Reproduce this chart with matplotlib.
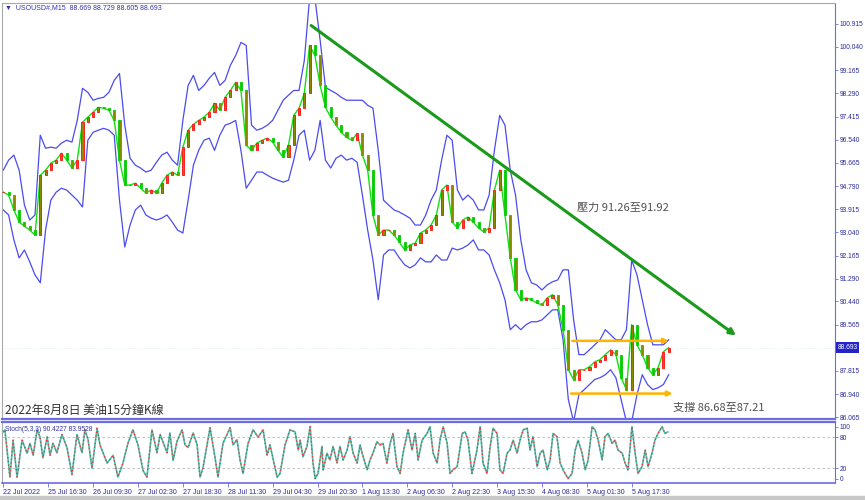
import matplotlib
matplotlib.use("Agg")
import matplotlib.pyplot as plt
import numpy as np

plt.rcParams["font.family"] = ["Liberation Sans", "DejaVu Sans"]

# USOUSD# M15, price read every 2 bar-hours (sample i sits at hour 2*i)
close = [94.56, 94.45, 93.89, 93.43, 93.28, 93.13, 92.94, 95.20, 95.39, 95.65,
         95.77, 96.03, 95.77, 95.47, 95.77, 97.20, 97.39, 97.58, 97.76, 97.73,
         97.65, 97.27, 95.77, 94.83, 94.83, 94.90, 94.71, 94.53, 94.64, 94.53,
         94.90, 95.20, 95.32, 95.20, 96.26, 96.90, 97.12, 97.27, 97.39, 97.58,
         97.91, 97.65, 98.14, 98.40, 98.70, 98.40, 96.33, 96.14, 96.41, 96.52,
         96.60, 96.45, 96.14, 95.88, 96.33, 97.46, 97.73, 98.29, 100.10, 99.72,
         98.59, 97.76, 97.39, 97.09, 96.82, 96.63, 96.52, 96.78, 95.96, 95.39,
         93.70, 92.94, 93.13, 93.13, 92.94, 92.68, 92.38, 92.57, 92.64, 93.02,
         93.13, 93.32, 93.70, 94.64, 94.83, 93.43, 93.21, 93.51, 93.62, 93.43,
         93.21, 93.06, 93.21, 94.64, 95.39, 93.70, 92.08, 90.87, 90.50, 90.57,
         90.50, 90.38, 90.31, 90.57, 90.69, 90.31, 89.37, 87.86, 87.49, 87.86,
         87.86, 87.97, 88.16, 88.24, 88.43, 88.61, 88.43, 87.56, 87.11, 89.56,
         88.80, 88.43, 87.94, 87.67, 87.94, 88.54, 88.69]

upper_band = [95.39, 95.77, 95.96, 95.39, 94.07, 93.51, 93.70, 96.71, 96.22, 96.26,
              96.22, 96.41, 96.52, 96.45, 97.27, 98.48, 98.33, 98.03, 98.10, 98.14,
              98.33, 98.78, 99.04, 97.09, 95.84, 95.58, 95.47, 95.32, 95.39, 95.69,
              95.96, 96.07, 95.77, 95.58, 97.27, 98.59, 98.97, 98.40, 98.59, 98.86,
              99.08, 98.59, 98.78, 99.35, 99.72, 100.21, 100.10, 97.09, 96.90, 96.97,
              97.09, 97.27, 97.65, 98.03, 98.22, 98.40, 98.40, 99.53, 101.90, 101.90,
              100.29, 98.52, 98.40, 98.29, 98.14, 98.03, 98.03, 98.03, 98.03, 97.84,
              97.73, 96.14, 94.26, 94.07, 93.89, 93.81, 93.70, 93.58, 93.32, 93.32,
              93.70, 94.26, 94.64, 95.77, 96.71, 96.52, 94.64, 94.26, 94.45, 94.26,
              93.89, 93.89, 94.45, 96.14, 97.46, 97.09, 95.39, 94.45, 92.76, 91.63,
              91.14, 91.06, 90.87, 91.06, 91.18, 91.25, 91.63, 91.63, 89.74, 88.43,
              88.43, 88.61, 88.80, 88.99, 89.37, 89.18, 88.99, 88.99, 89.37, 92.00,
              91.44, 90.50, 89.56, 88.80, 88.80, 88.80, 88.99]

lower_band = [93.89, 93.70, 92.76, 92.08, 92.38, 91.93, 91.44, 91.14, 93.13, 94.26,
              94.56, 94.71, 94.64, 94.45, 94.26, 94.00, 96.52, 96.82, 96.90, 96.97,
              96.90, 96.71, 94.26, 92.49, 93.32, 93.89, 94.07, 93.70, 93.58, 93.51,
              93.58, 93.70, 93.43, 93.13, 93.02, 94.26, 95.58, 96.14, 96.52, 96.60,
              96.14, 96.71, 97.09, 97.16, 97.27, 96.14, 94.71, 95.01, 95.32, 95.32,
              95.20, 95.09, 95.01, 94.94, 95.01, 95.77, 96.71, 96.90, 95.77, 96.14,
              97.27, 95.77, 95.47, 95.84, 95.96, 95.77, 95.84, 95.69, 94.45, 93.13,
              92.00, 90.50, 92.19, 92.38, 92.38, 92.08, 91.82, 91.70, 91.82, 92.08,
              91.93, 91.93, 92.19, 92.00, 92.00, 92.45, 92.38, 92.45, 92.57, 92.76,
              92.38, 92.38, 92.19, 91.63, 91.14, 90.50, 89.37, 89.56, 89.37, 89.56,
              89.67, 89.67, 89.74, 89.93, 90.12, 90.12, 88.99, 86.73, 85.90, 86.92,
              87.11, 87.30, 87.49, 87.56, 87.67, 87.86, 87.56, 86.73, 85.90, 85.90,
              86.92, 87.67, 87.30, 87.11, 87.18, 87.30, 87.67]

# Stoch(5,3,3) main line, bar-hour positions and values
stoch_hour = [0, 0.6, 2.5, 3.7, 5.2, 7.1, 9.0, 10.1, 11.3, 12.8, 13.9, 15.0, 16.6, 17.7,
              18.8, 20.3, 22.2, 24.1, 26.0, 27.9, 29.8, 30.9, 32.1, 33.6, 35.5, 36.6,
              39.3, 41.6, 43.4, 45.3, 47.2, 49.1, 51.0, 52.9, 54.4, 56.3, 58.2, 59.4,
              62.0, 63.1, 64.3, 65.8, 67.7, 68.8, 70.0, 71.9, 73.4, 74.5, 75.6, 78.3,
              80.2, 81.3, 83.2, 85.9, 87.0, 88.5, 89.7, 90.8, 92.7, 94.6, 96.5, 98.4,
              99.9, 101.0, 103.7, 104.8, 106.7, 108.6, 110.5, 111.7, 112.4, 113.5,
              115.0, 116.2, 117.3, 118.1, 119.2, 120.7, 121.1, 122.6, 123.7, 124.9,
              126.4, 127.5, 128.7, 130.2, 131.3, 132.5, 134.0, 135.1, 136.3, 137.8,
              138.9, 140.0, 141.5, 142.7, 143.8, 145.3, 146.5, 147.6, 149.1, 150.3,
              151.4, 153.3, 154.8, 156.0, 157.1, 158.6, 160.5, 161.6, 162.8, 164.3,
              165.4, 166.6, 168.1, 169.2, 170.3, 171.9, 173.8, 174.9, 176.0, 177.5,
              179.4, 180.6, 181.7, 183.2, 184.4, 185.5, 187.0, 188.1, 189.3, 190.8,
              191.9, 193.1, 194.6, 195.7, 196.9, 198.4, 199.5, 200.6, 202.2, 203.3,
              204.4, 206.0, 207.1, 208.2, 209.7, 210.9, 212.0, 213.9, 215.4, 216.6,
              217.7, 219.2, 220.4, 221.5, 223.0, 224.1, 225.3, 226.8, 227.9, 229.1,
              230.6, 231.7, 232.8, 234.4, 235.5, 236.6, 238.1, 239.3, 240.4, 241.9,
              243.1, 244.2, 245.7, 246.8, 248.0, 249.5, 250.6, 251.7]
stoch_k = [90, 94, 3, 74, 3, 74, 49, 68, 45, 94, 80, 40, 80, 45,
           68, 50, 85, 60, 8, 85, 50, 94, 75, 20, 97, 65,
           30, 45, 3, 30, 68, 94, 65, 16, 3, 94, 50, 85,
           50, 88, 35, 72, 94, 65, 60, 88, 65, 3, 20, 98,
           40, 3, 68, 98, 65, 75, 35, 10, 68, 94, 80, 94,
           45, 65, 3, 10, 65, 94, 90, 55, 74, 42,
           62, 100, 30, 0, 10, 62, 17, 49, 36, 62,
           30, 62, 36, 55, 81, 49, 30, 65, 42, 17,
           36, 49, 71, 65, 68, 30, 68, 87, 23, 10,
           49, 94, 55, 87, 36, 74, 87, 100, 49, 30,
           74, 100, 68, 10, 17, 23, 87, 90, 74, 10,
           55, 100, 30, 10, 62, 97, 87, 17, 10, 49,
           55, 74, 49, 74, 94, 97, 55, 81, 23, 49,
           55, 17, 36, 87, 81, 30, 17, 0, 10, 55,
           74, 49, 17, 36, 100, 94, 74, 36, 81, 87,
           68, 74, 55, 49, 30, 17, 100, 49, 10, 23,
           55, 23, 49, 74, 87, 100, 87, 90]

price_ticks = [100.915, 100.040, 99.165, 98.290, 97.415, 96.540, 95.665, 94.790,
               93.915, 93.040, 92.165, 91.290, 90.440, 89.565, 87.815, 86.940, 86.065]
last_price = 88.693
time_hours = [0, 17, 34, 51, 68, 85, 102, 119, 136, 153, 170, 187, 204, 221, 238]
time_labels = ["22 Jul 2022", "25 Jul 16:30", "26 Jul 09:30", "27 Jul 02:30",
               "27 Jul 18:30", "28 Jul 11:30", "29 Jul 04:30", "29 Jul 20:30",
               "1 Aug 13:30", "2 Aug 06:30", "2 Aug 22:30", "3 Aug 15:30",
               "4 Aug 08:30", "5 Aug 01:30", "5 Aug 17:30"]

# hand-drawn objects on the chart (bar-hour, price)
trend_start = (116.6, 100.85)
trend_end = (277.5, 89.15)
resist_line = (215.5, 252.0, 88.95)
support_line = (215.0, 253.5, 86.96)

BLUE = "#6C6CE4"
LABEL = "#2A2A9C"
GREY = "#A8A8A8"

fig = plt.figure(figsize=(8.65, 5), dpi=100)
ax = fig.add_axes([2 / 865, 1 - 419 / 500, 833 / 865, 416 / 500])
ax2 = fig.add_axes([2 / 865, 1 - 483 / 500, 833 / 865, 61 / 500])

hours = np.arange(len(close)) * 2
c = np.array(close)
o = np.concatenate([[c[0]], c[:-1]])
up = c >= o

ax.plot(hours, upper_band, color="#4B4BF0", lw=0.9, zorder=1)
ax.plot(hours, lower_band, color="#4B4BF0", lw=0.9, zorder=1)
ax.plot(hours, close, color="#10E010", lw=1.0, zorder=2)
edge = np.where(up, "#FF2020", "#10D010")
ax.bar(hours, c - o, bottom=o, width=0.8, color="#8A8A00",
       edgecolor=edge, linewidth=0.7, zorder=3)

ax.annotate("", xy=trend_end, xytext=trend_start,
            arrowprops=dict(arrowstyle="-|>", color="#1A9A1A", lw=2.2,
                            mutation_scale=9, shrinkA=0, shrinkB=0), zorder=4)
for x0, x1, lvl in (resist_line, support_line):
    ax.annotate("", xy=(x1, lvl), xytext=(x0, lvl),
                arrowprops=dict(arrowstyle="-|>", color="#FFB400", lw=1.8,
                                mutation_scale=7, shrinkA=0, shrinkB=0), zorder=4)

ax.axhline(last_price, color="#D8ECEC", lw=0.6, ls=":", zorder=0)

ax.set_xlim(-0.5, 315)
ax.set_ylim(86.0, 101.7)
ax.yaxis.tick_right()
ax.set_yticks(price_ticks)
ax.set_yticklabels([f"{v:.3f}" for v in price_ticks])
ax.tick_params(axis="y", length=2, width=0.6, color=BLUE, labelsize=4.8,
               labelcolor=LABEL, pad=1.5)
ax.set_xticks([])
for side in ("left", "top"):
    ax.spines[side].set_color(GREY)
ax.spines["right"].set_color(BLUE)
ax.spines["bottom"].set_color(BLUE)
ax.spines["bottom"].set_linewidth(1.6)

ax.text(1.003, last_price, f"{last_price:.3f}", transform=ax.get_yaxis_transform(),
        fontsize=4.8, color="white", va="center", ha="left",
        bbox=dict(boxstyle="square,pad=0.25", fc="#2424C8", ec="none"))

ax.text(0.004, 0.988, "▼  USOUSD#,M15  88.669 88.729 88.605 88.693",
        transform=ax.transAxes, fontsize=5, color="#3434A8", va="center", ha="left")
ax.text(0.690, 0.507, "壓力 91.26至91.92", transform=ax.transAxes, fontsize=8,
        color="#505050", va="center", ha="left",
        family=["Noto Sans CJK TC", "DejaVu Sans"])
ax.text(0.806, 0.027, "支撐 86.68至87.21", transform=ax.transAxes, fontsize=8,
        color="#505050", va="center", ha="left",
        family=["Noto Sans CJK TC", "DejaVu Sans"])
ax.text(0.004, 0.020, "2022年8月8日 美油15分鐘K線", transform=ax.transAxes,
        fontsize=8.6, color="#303030", va="center", ha="left",
        family=["Noto Sans CJK TC", "DejaVu Sans"])

# stochastic sub-window
ax2.plot(stoch_hour, stoch_k, color="#3CC6B2", lw=1.2, zorder=2)
ax2.plot(stoch_hour, stoch_k, color="#FF2A2A", lw=0.9, ls=(0, (1, 2)), zorder=3)
for lvl in (20, 80):
    ax2.axhline(lvl, color="#B4B4B4", lw=0.6, ls=(0, (3, 3)), zorder=1)
ax2.set_xlim(-0.5, 315)
ax2.set_ylim(-8.3, 109)
ax2.yaxis.tick_right()
ax2.set_yticks([0, 20, 80, 100])
ax2.tick_params(axis="y", length=2, width=0.6, color=BLUE, labelsize=4.8,
                labelcolor=LABEL, pad=1.5)
ax2.set_xticks(time_hours)
ax2.set_xticklabels(time_labels, ha="left")
ax2.tick_params(axis="x", length=3, width=0.6, color=BLUE, labelsize=5,
                labelcolor=LABEL, pad=1.5)
ax2.spines["left"].set_color(GREY)
for side in ("top", "right", "bottom"):
    ax2.spines[side].set_color(BLUE)
ax2.spines["top"].set_linewidth(1.6)
ax2.spines["bottom"].set_linewidth(1.2)
ax2.text(0.004, 0.93, "Stoch(5,3,3) 90.4227 83.9528", transform=ax2.transAxes,
         fontsize=4.8, color="#3434A8", va="top", ha="left")

fig.patches.append(plt.Rectangle((0, 0), 1, 4 / 500, transform=fig.transFigure,
                                 color="#C8C8C8", zorder=0))

fig.savefig("out.png", dpi=100)
